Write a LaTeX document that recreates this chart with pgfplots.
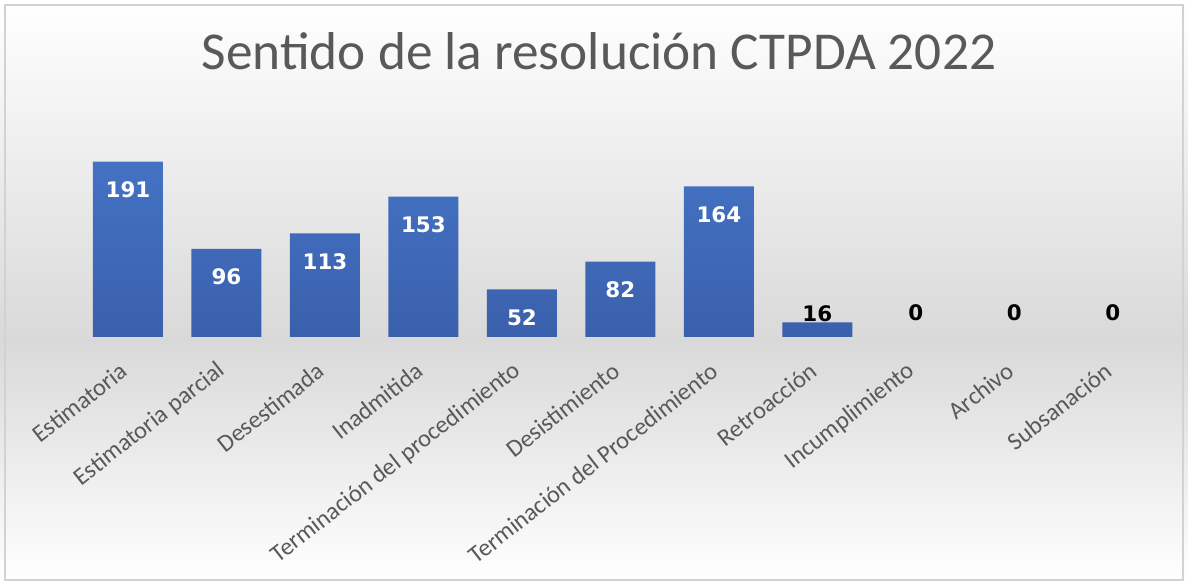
\documentclass[border=0pt]{standalone}
\usepackage{pgfplots}
\pgfplotsset{compat=1.18}
\usepackage{fontspec}
\setmainfont{Carlito}
\newfontfamily\labelfont{DejaVu Sans}
\definecolor{txt}{HTML}{595959}
\definecolor{bartop}{HTML}{4472C4}
\definecolor{barbot}{HTML}{3A60AC}
\definecolor{bgmid}{HTML}{D9D9D9}
\begin{document}
\begin{tikzpicture}[x=1bp,y=1bp]
\shade[top color=white,bottom color=bgmid] (0,243) rectangle (1188,583);
\shade[top color=bgmid,bottom color=white] (0,0) rectangle (1188,243.1);
\draw[gray!35, line width=1.5bp] (5,3) rectangle (1183,578);
\node[font=\fontsize{53.5}{60}\selectfont, text=txt, anchor=base] at (599,513) {Sentido de la resolución CTPDA 2022};
\begin{axis}[at={(78.75bp,246bp)}, anchor=south west, scale only axis,
  width=1083.25bp, height=183.6bp,
  xmin=-0.5, xmax=10.5, ymin=0, ymax=200,
  axis line style={draw=none}, ytick=\empty,
  xtick={0,...,10},
  xticklabels={Estimatoria, Estimatoria parcial, Desestimada, Inadmitida, Terminación del procedimiento, Desistimiento, Terminación del Procedimiento, Retroacción, Incumplimiento, Archivo, Subsanación},
  major tick length=0pt,
  xticklabel style={xshift=-4bp, rotate=38, anchor=east, font=\fontsize{24.5}{26}\selectfont, text=txt, inner sep=0pt},
  xticklabel shift=31bp,
  clip=false]
\pgfplotstableread{
x y
0 191
1 96
2 113
3 153
4 52
5 82
6 164
7 16
8 0
9 0
10 0
}\bars
\addplot[ybar, bar width=70bp, draw=none, top color=bartop, bottom color=barbot,
  y filter/.expression={y>0 ? y : nan}] table[x=x,y=y] {\bars};
\addplot[draw=none, mark=none, forget plot, nodes near coords, point meta=explicit symbolic,
  nodes near coords style={anchor=center, yshift=-28bp, text=white, font=\labelfont\bfseries\fontsize{21.5}{22}\selectfont}]
  coordinates {(0,191)[191] (1,96)[96] (2,113)[113] (3,153)[153] (4,52)[52] (5,82)[82] (6,164)[164]};
\addplot[draw=none, mark=none, forget plot, nodes near coords, point meta=explicit symbolic,
  nodes near coords style={anchor=center, yshift=9bp, text=black, font=\labelfont\bfseries\fontsize{21.5}{22}\selectfont}]
  coordinates {(7,16)[16]};
\addplot[draw=none, mark=none, forget plot, nodes near coords, point meta=explicit symbolic,
  nodes near coords style={anchor=center, yshift=24bp, text=black, font=\labelfont\bfseries\fontsize{21.5}{22}\selectfont}]
  coordinates {(8,0)[0] (9,0)[0] (10,0)[0]};
\end{axis}
\end{tikzpicture}
\end{document}
